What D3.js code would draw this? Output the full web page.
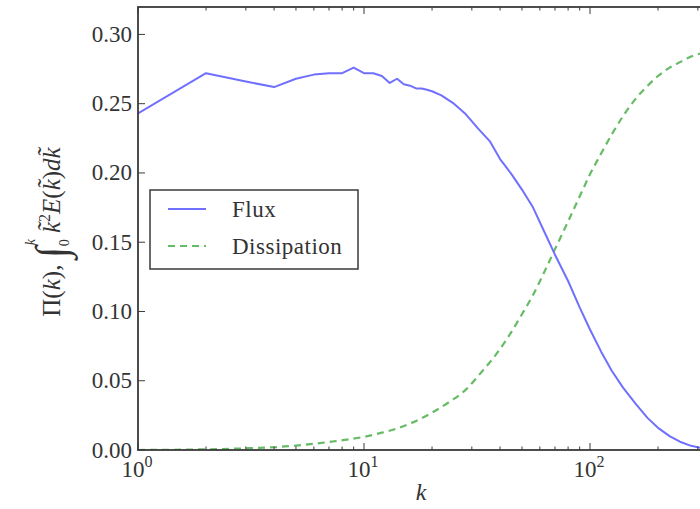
<!DOCTYPE html>
<html>
<head>
<meta charset="utf-8">
<script src="https://cdn.jsdelivr.net/npm/d3@7/dist/d3.min.js"></script>
<style>
  html, body { margin: 0; padding: 0; background: #fff; }
  svg { display: block; }
  text { font-family: "Liberation Serif", "DejaVu Serif", serif; fill: #333; }
</style>
</head>
<body>
<svg id="chart" width="700" height="509"></svg>
<script>
// Energy flux Π(k), sampled at integer k at low wavenumber, sparser further out
const fluxK = [1, 2, 3, 4, 5, 6, 7, 8, 9, 10, 11, 12, 13, 14, 15, 16, 17, 18, 19, 20,
  22, 25, 28, 32, 36, 40, 45, 50, 56, 63, 70, 80, 90, 100, 112, 125, 140, 160, 180, 200, 225, 250, 280, 320, 360];
const fluxValues = [0.243, 0.272, 0.266, 0.262, 0.268, 0.271, 0.272, 0.272, 0.276, 0.272, 0.272, 0.270, 0.265, 0.268, 0.264, 0.263, 0.261, 0.261, 0.260, 0.259,
  0.256, 0.250, 0.243, 0.232, 0.223, 0.210, 0.199, 0.188, 0.175, 0.157, 0.141, 0.122, 0.103, 0.087, 0.071, 0.057, 0.045, 0.033, 0.023, 0.016, 0.010, 0.006, 0.003, 0.001, 0.000];

// Cumulative dissipation ∫ k̃² E(k̃) dk̃
const dissK = [1, 2, 3, 4, 5, 6, 7, 8, 10, 12, 14, 17, 20, 24, 28, 33, 38, 44, 50, 56, 63, 70, 80, 90, 100, 112, 125, 140, 160, 180, 200, 225, 250, 280, 320, 360];
const dissValues = [0.0000, 0.0005, 0.0012, 0.0020, 0.0032, 0.0045, 0.0058, 0.0070, 0.0095, 0.0125, 0.0155, 0.021, 0.027, 0.035, 0.043, 0.056, 0.068, 0.083, 0.098, 0.112, 0.129, 0.145, 0.165, 0.183, 0.199, 0.214, 0.228, 0.241, 0.254, 0.263, 0.270, 0.276, 0.280, 0.284, 0.287, 0.289];

const yTicks = [0.00, 0.05, 0.10, 0.15, 0.20, 0.25, 0.30];
const xMajorTicks = [1, 10, 100];
const seriesNames = ["Flux", "Dissipation"];

const svg = d3.select("#chart");
const plotLeft = 138, plotTop = 7, plotBottom = 450;
const decade = 226;
const xMaxLog = 2.6;
const plotRight = plotLeft + decade * xMaxLog;

const x = d3.scaleLog().domain([1, Math.pow(10, xMaxLog)]).range([plotLeft, plotRight]);
const y = d3.scaleLinear().domain([0, 0.3198]).range([plotBottom, plotTop]);

const axisColor = "#3a3a3a";
const blue = "#7070ff";
const green = "#66bb66";

// Curves, clipped to the axes box
svg.append("clipPath").attr("id", "plotClip")
  .append("rect").attr("x", plotLeft).attr("y", plotTop)
  .attr("width", plotRight - plotLeft).attr("height", plotBottom - plotTop);

const g = svg.append("g").attr("clip-path", "url(#plotClip)");

const dissLine = d3.line().x(d => x(d[0])).y(d => y(d[1])).curve(d3.curveMonotoneX);
g.append("path")
  .datum(dissK.map((k, i) => [k, dissValues[i]]))
  .attr("d", dissLine).attr("fill", "none")
  .attr("stroke", green).attr("stroke-width", 2.2).attr("stroke-dasharray", "7,5");

const fluxLine = d3.line().x(d => x(d[0])).y(d => y(d[1]));
g.append("path")
  .datum(fluxK.map((k, i) => [k, fluxValues[i]]))
  .attr("d", fluxLine).attr("fill", "none")
  .attr("stroke", blue).attr("stroke-width", 2).attr("stroke-linejoin", "round");

// Minor tick positions for the log axis
const minorTicks = [];
for (let e = 0; e < 3; e++) for (let m = 2; m <= 9; m++) {
  const v = m * Math.pow(10, e);
  if (x(v) < plotRight) minorTicks.push(v);
}

// Ticks drawn inward on bottom and top
const ticks = svg.append("g").attr("stroke", axisColor).attr("stroke-width", 1);
xMajorTicks.forEach(v => {
  ticks.append("line").attr("x1", x(v)).attr("x2", x(v)).attr("y1", plotBottom).attr("y2", plotBottom - 7);
  ticks.append("line").attr("x1", x(v)).attr("x2", x(v)).attr("y1", plotTop).attr("y2", plotTop + 7);
});
minorTicks.forEach(v => {
  ticks.append("line").attr("x1", x(v)).attr("x2", x(v)).attr("y1", plotBottom).attr("y2", plotBottom - 3.5);
  ticks.append("line").attr("x1", x(v)).attr("x2", x(v)).attr("y1", plotTop).attr("y2", plotTop + 3.5);
});
yTicks.forEach(v => {
  ticks.append("line").attr("x1", plotLeft).attr("x2", plotLeft + 7).attr("y1", y(v)).attr("y2", y(v));
});

// Axes frame
svg.append("rect").attr("x", plotLeft).attr("y", plotTop)
  .attr("width", plotRight - plotLeft).attr("height", plotBottom - plotTop)
  .attr("fill", "none").attr("stroke", axisColor).attr("stroke-width", 1.8);

// Y tick labels
svg.append("g").selectAll("text").data(yTicks).join("text")
  .attr("x", plotLeft - 6).attr("y", d => y(d) + 7.5)
  .attr("text-anchor", "end").attr("font-size", 23)
  .text(d => d.toFixed(2));

// X tick labels as powers of ten
xMajorTicks.forEach(v => {
  const t = svg.append("text").attr("x", x(v) - 1).attr("y", 477).attr("text-anchor", "middle").attr("font-size", 23);
  t.append("tspan").text("10");
  t.append("tspan").attr("dy", -10).attr("font-size", 16).text(Math.round(Math.log10(v)));
});

// Axis titles
svg.append("text").attr("x", 421).attr("y", 500).attr("text-anchor", "middle")
  .attr("font-size", 24).attr("font-style", "italic").text("k");

const yl = svg.append("text")
  .attr("transform", "translate(60,232) rotate(-90)")
  .attr("text-anchor", "middle").attr("font-size", 25);
yl.append("tspan").text("Π(");
yl.append("tspan").attr("font-style", "italic").text("k");
yl.append("tspan").text("), ");
yl.append("tspan").attr("font-size", 44).attr("dy", 6).text("∫");
yl.append("tspan").attr("font-size", 14).attr("dy", 3).text("0");
yl.append("tspan").attr("font-size", 14).attr("dx", -6).attr("dy", -34).attr("font-style", "italic").text("k");
yl.append("tspan").attr("dy", 25).attr("dx", 6).attr("font-style", "italic").text("k\u0303");
yl.append("tspan").attr("font-size", 16).attr("dy", -10).text("2");
yl.append("tspan").attr("dy", 10).attr("font-style", "italic").text("E");
yl.append("tspan").text("(");
yl.append("tspan").attr("font-style", "italic").text("k\u0303");
yl.append("tspan").text(")");
yl.append("tspan").attr("font-style", "italic").text("dk\u0303");

// Legend
const lg = svg.append("g");
lg.append("rect").attr("x", 150).attr("y", 190).attr("width", 208).attr("height", 79)
  .attr("fill", "#fff").attr("stroke", axisColor).attr("stroke-width", 1.5);
const legendStyles = [
  { color: blue, dash: null, width: 2 },
  { color: green, dash: "7,5", width: 2.2 }
];
seriesNames.forEach((name, i) => {
  const cy = 209 + i * 37;
  lg.append("line").attr("x1", 168).attr("x2", 206).attr("y1", cy).attr("y2", cy)
    .attr("stroke", legendStyles[i].color).attr("stroke-width", legendStyles[i].width)
    .attr("stroke-dasharray", legendStyles[i].dash);
  lg.append("text").attr("x", 232).attr("y", cy + 8).attr("font-size", 23)
    .attr("letter-spacing", 0.5).text(name);
});
</script>
</body>
</html>
